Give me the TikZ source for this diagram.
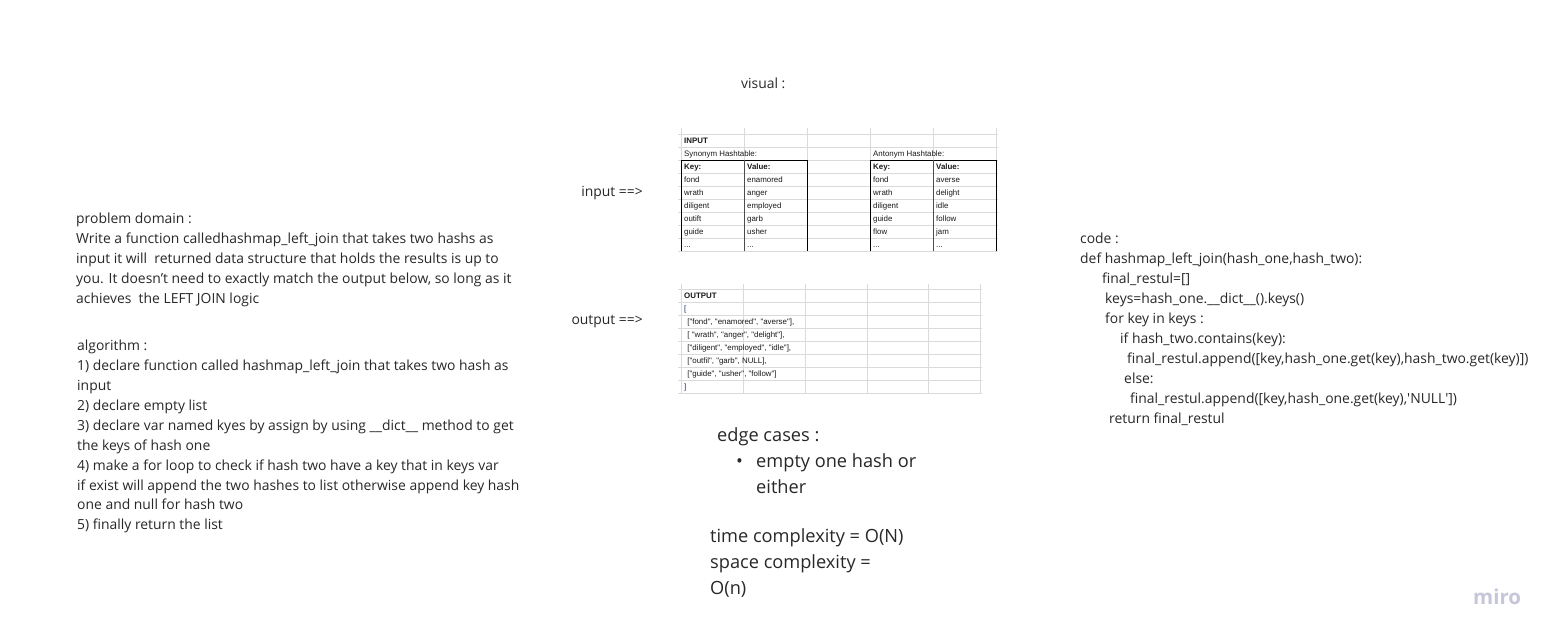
\documentclass[tikz,border=0pt]{standalone}
\usepackage{fontspec}
\setmainfont{Open Sans}
\newfontfamily\tabfont{Liberation Sans}
\definecolor{txtc}{RGB}{40,40,40}
\definecolor{gridc}{RGB}{218,218,218}
\definecolor{brk}{RGB}{30,40,110}
\definecolor{miroc}{RGB}{198,198,218}
\begin{document}
\begin{tikzpicture}[x=1pt,y=-1pt,
  txt/.style={anchor=base west,inner sep=0pt,text=txtc,font=\fontsize{13.9}{20}\selectfont},
  big/.style={anchor=base west,inner sep=0pt,text=txtc,font=\fontsize{18.2}{26}\selectfont},
  tab/.style={anchor=base west,inner sep=0pt,text=black!90,font=\tabfont\fontsize{7.9}{9}\selectfont},
  tabb/.style={tab,font=\tabfont\bfseries\fontsize{7.9}{9}\selectfont},
  gridline/.style={draw=gridc,line width=0.7pt},
  boxline/.style={draw=black,line width=0.9pt}]
\useasboundingbox (0,0) rectangle (1559,641);
\fill[white] (0,0) rectangle (1559,641);

% left: problem domain
\node[txt] (p0) at (76,223) {problem domain :};
\node[txt] (p1) at (76,243) {Write a function calledhashmap\_left\_join that takes two hashs as};
\node[txt] (p2) at (76,263) {input it will\ \ returned data structure that holds the results is up to};
\node[txt] (p3) at (76,283) {you. It doesn’t need to exactly match the output below, so long as it};
\node[txt] (p4) at (76,303) {achieves\ \ the LEFT JOIN logic};

% algorithm
\node[txt] (a0) at (77,350) {algorithm :};
\node[txt] (a1) at (77,370) {1) declare function called hashmap\_left\_join that takes two hash as};
\node[txt] (a2) at (77,390) {input};
\node[txt] (a3) at (77,410) {2) declare empty list};
\node[txt] (a4) at (77,430) {3) declare var named kyes by assign by using \_\_dict\_\_ method to get};
\node[txt] (a5) at (77,450) {the keys of hash one};
\node[txt] (a6) at (77,470) {4) make a for loop to check if hash two have a key that in keys var};
\node[txt] (a7) at (77,490) {if exist will append the two hashes to list otherwise append key hash};
\node[txt] (a8) at (77,509) {one and null for hash two};
\node[txt] (a9) at (77,529) {5) finally return the list};

% centre labels
\node[txt] (vis) at (741,88) {visual :};
\node[txt,anchor=base east] (inl) at (643,196) {input ==>};
\node[txt,anchor=base east] (outl) at (643,324) {output ==>};

% input table grid
\foreach \k in {0,1,2,3,4,5,6,7,8,9} \draw[gridline] (678,134+13*\k) -- (998,134+13*\k);
\foreach \cx in {681,744,807,870,933,996} \draw[gridline] (\cx,128) -- (\cx,251);
\draw[boxline] (681,251) -- (681,160) -- (807,160) -- (807,251);
\draw[boxline] (870,251) -- (870,160) -- (996,160) -- (996,251);
\draw[draw=black!70,line width=0.6pt] (744,160) -- (744,251);
\draw[draw=black!70,line width=0.6pt] (933,160) -- (933,251);

\node[tabb] (tin) at (684,143.5) {INPUT};
\node[tab] (syn) at (684,156.5) {Synonym Hashtable:};
\node[tab] (ant) at (873,156.5) {Antonym Hashtable:};
\node[tabb] (sk) at (684,169.5) {Key:};
\node[tabb] (sv) at (747,169.5) {Value:};
\node[tabb] (ak) at (873,169.5) {Key:};
\node[tabb] (av) at (936,169.5) {Value:};
\foreach \r/\ka/\va/\kb/\vb in {1/fond/enamored/fond/averse,2/wrath/anger/wrath/delight,3/diligent/employed/diligent/idle,4/outift/garb/guide/follow,5/guide/usher/flow/jam}{
  \node[tab] (sk\r) at (684,169.5+13*\r) {\ka};
  \node[tab] (sv\r) at (747,169.5+13*\r) {\va};
  \node[tab] (ak\r) at (873,169.5+13*\r) {\kb};
  \node[tab] (av\r) at (936,169.5+13*\r) {\vb};
}
\node[tab] (sk6) at (684,247.5) {...};
\node[tab] (sv6) at (747,247.5) {...};
\node[tab] (ak6) at (873,247.5) {...};
\node[tab] (av6) at (936,247.5) {...};

% output table grid
\foreach \k in {0,1,2,3,4,5,6,7,8} \draw[gridline] (678,289+13*\k) -- (982,289+13*\k);
\foreach \cx in {681,743,805,867,928,980} \draw[gridline] (\cx,284) -- (\cx,393);
\node[tabb] (tout) at (684,298.5) {OUTPUT};
\node[tab,text=brk] (ob) at (684,311.5) {[};
\node[tab] (o1) at (685,324.5) {\ ["fond", "enamored", "averse"],};
\node[tab] (o2) at (685,337.5) {\ [ "wrath", "anger", "delight"],};
\node[tab] (o3) at (685,350.5) {\ ["diligent", "employed", "idle"],};
\node[tab] (o4) at (685,363.5) {\ ["outfil", "garb", NULL],};
\node[tab] (o5) at (685,376.5) {\ ["guide", "usher", "follow"]};
\node[tab,text=brk] (oe) at (684,389.5) {]};

% edge cases / complexity
\node[big] (e0) at (717,441) {edge cases :};
\node[big] (eb) at (736,467) {\textbullet};
\node[big] (e1) at (756,467) {empty one hash or};
\node[big] (e2) at (756,493) {either};
\node[big] (t1) at (710,542) {time complexity = O(N)};
\node[big] (t2) at (710,568) {space complexity =};
\node[big] (t3) at (710,594) {O(n)};

% code
\node[txt] (c0) at (1080,243) {code :};
\node[txt] (c1) at (1080,263) {def hashmap\_left\_join(hash\_one,hash\_two):};
\node[txt] (c2) at (1102,283) {final\_restul=[]};
\node[txt] (c3) at (1105,303) {keys=hash\_one.\_\_dict\_\_().keys()};
\node[txt] (c4) at (1105,323) {for key in keys :};
\node[txt] (c5) at (1120,343) {if hash\_two.contains(key):};
\node[txt] (c6) at (1127,363) {final\_restul.append([key,hash\_one.get(key),hash\_two.get(key)])};
\node[txt] (c7) at (1124,383) {else:};
\node[txt] (c8) at (1130,403) {final\_restul.append([key,hash\_one.get(key),\textquotesingle NULL\textquotesingle])};
\node[txt] (c9) at (1109,423) {return final\_restul};

% watermark
\node[anchor=base west,inner sep=0pt,text=miroc,font=\bfseries\fontsize{20.5}{22}\selectfont] (miro) at (1473,604) {miro};
\end{tikzpicture}
\end{document}
